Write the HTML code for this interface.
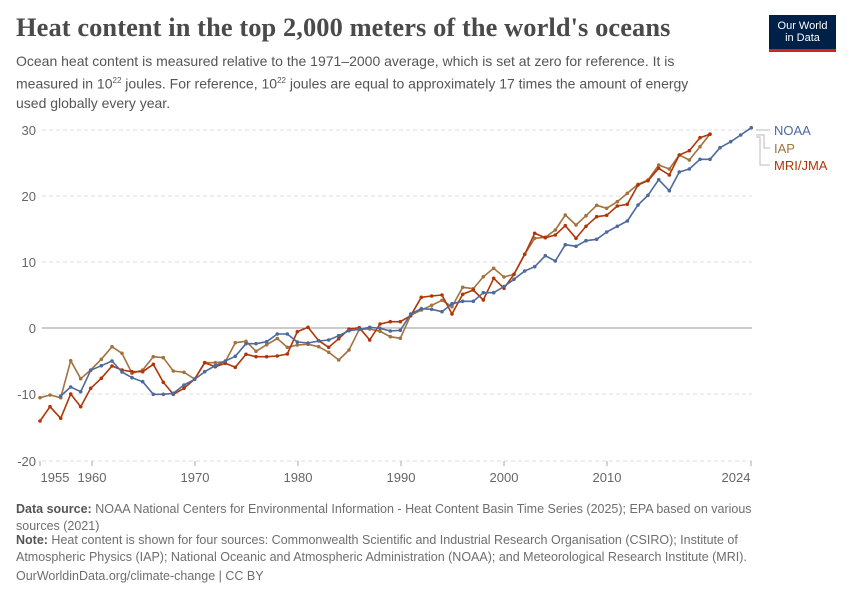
<!DOCTYPE html>
<html><head><meta charset="utf-8"><style>
body{margin:0;background:#fff;width:850px;height:600px;overflow:hidden;font-family:"Liberation Sans",sans-serif;position:relative}
.t{position:absolute;left:16px;top:12px;font-family:"Liberation Serif",serif;font-weight:bold;font-size:26.4px;color:#4a4a4a;white-space:nowrap;letter-spacing:0.1px}
.s{position:absolute;left:16px;top:52px;width:700px;font-size:14px;line-height:19px;color:#555}
.logo{position:absolute;left:769px;top:15px;width:67px;height:37px;background:#002147;border-bottom:3px solid #ce261e;color:#fff;font-size:11px;line-height:12px;text-align:center;box-sizing:border-box;padding-top:5px}
.f{position:absolute;left:16px;font-size:12.5px;line-height:17px;color:#6e6e6e;width:765px}
.f b{color:#555}
</style></head><body>
<div class="t">Heat content in the top 2,000 meters of the world's oceans</div>
<div class="logo">Our World<br>in Data</div>
<div class="s">Ocean heat content is measured relative to the 1971–2000 average, which is set at zero for reference. It is measured in 10<sup style="font-size:8px">22</sup> joules. For reference, 10<sup style="font-size:8px">22</sup> joules are equal to approximately 17 times the amount of energy used globally every year.</div>
<svg width="850" height="600" style="position:absolute;left:0;top:0" font-family="Liberation Sans, sans-serif">
<g stroke="#ddd" stroke-dasharray="4,3">
<line x1="42" x2="752" y1="130" y2="130"/><line x1="42" x2="752" y1="196" y2="196"/><line x1="42" x2="752" y1="262" y2="262"/><line x1="42" x2="752" y1="394" y2="394"/><line x1="42" x2="752" y1="461" y2="461"/>
</g>
<line x1="42" x2="752" y1="328" y2="328" stroke="#999"/>
<g stroke="#aaa"><line x1="40" x2="40" y1="461" y2="466"/><line x1="92" x2="92" y1="461" y2="466"/><line x1="195" x2="195" y1="461" y2="466"/><line x1="298" x2="298" y1="461" y2="466"/><line x1="401" x2="401" y1="461" y2="466"/><line x1="504" x2="504" y1="461" y2="466"/><line x1="607" x2="607" y1="461" y2="466"/><line x1="751" x2="751" y1="461" y2="466"/></g>
<g font-size="13" fill="#666" text-anchor="end">
<text x="36" y="135">30</text><text x="36" y="201">20</text><text x="36" y="267">10</text><text x="36" y="333">0</text><text x="36" y="399">-10</text><text x="36" y="466">-20</text></g>
<g font-size="13" fill="#666" text-anchor="middle">
<text x="55" y="482">1955</text><text x="92" y="482">1960</text><text x="195" y="482">1970</text><text x="298" y="482">1980</text><text x="401" y="482">1990</text><text x="504" y="482">2000</text><text x="607" y="482">2010</text><text x="736" y="482">2024</text></g>
<defs>
<marker id="mb" viewBox="0 0 4 4" refX="2" refY="2" markerWidth="4" markerHeight="4" markerUnits="userSpaceOnUse"><circle cx="2" cy="2" r="1.8" fill="#4c6a9c"/></marker>
<marker id="mi" viewBox="0 0 4 4" refX="2" refY="2" markerWidth="4" markerHeight="4" markerUnits="userSpaceOnUse"><circle cx="2" cy="2" r="1.8" fill="#a2723f"/></marker>
<marker id="mr" viewBox="0 0 4 4" refX="2" refY="2" markerWidth="4" markerHeight="4" markerUnits="userSpaceOnUse"><circle cx="2" cy="2" r="1.8" fill="#b13507"/></marker>
</defs>
<g fill="none" stroke-width="1.6" stroke-linejoin="round">
<polyline stroke="#a2723f" marker-start="url(#mi)" marker-mid="url(#mi)" marker-end="url(#mi)" points="40,397.7 50,395 60.7,397.7 70.7,360.7 80.7,378.7 90.7,370 101.3,359.3 112,346.7 122,353.3 132,373.3 142.7,370 153.3,356.7 163.3,357.7 173.3,371 184,372.3 194.7,379 204.7,362.7 215.3,362.7 225.3,361.7 235.3,342.7 246,341.3 256,351.3 266.7,344.7 277.3,338.5 287.3,347.3 297.3,345 308,344.3 318.7,346.7 328.7,352.3 338.7,360 349,350 359.3,329.3 369.7,329 380,331.3 390.3,336.7 400.3,338.3 410.7,315.3 421.3,310 431.7,305.3 442,300.3 452,306.7 462.7,287.3 473.3,288.7 483.3,276.7 493.7,268.3 504,277 514,274.3 524.7,254.3 534.7,238.3 545.3,237.3 555.3,230 565.3,215 576,225 586,215.7 596.7,205.3 606.7,208.3 617.3,201.7 627.3,193.3 638,184.3 648,180 658.7,165 669.3,169 679.3,155 689.3,160 700,146.7 710,134"/>
<polyline stroke="#b13507" marker-start="url(#mr)" marker-mid="url(#mr)" marker-end="url(#mr)" points="40,421 50,406.7 60.7,418.3 70.7,394 80.7,406.7 90.7,388.3 101.3,378.3 112,366 122,370 132,371.7 142.7,371.7 153.3,364.3 163.3,382.3 173.3,394.3 184,388.3 194.7,379 204.7,362.7 215.3,366.7 225.3,363.3 235.3,367.3 246,354.3 256,356.7 266.7,356.7 277.3,356 287.3,354 297.3,331.7 308,327.3 318.7,340.7 328.7,347.3 338.7,338.7 349,329 359.3,327.7 369.7,340 380,324 390.3,321.7 400.3,321.7 410.7,315.7 421.3,297.3 431.7,296 442,295 452,314 462.7,294.3 473.3,290 483.3,300 493.7,278.3 504,288.3 514,274.3 524.7,254.3 534.7,233.3 545.3,237.7 555.3,235 565.3,225.7 576,238.3 586,226.3 596.7,216.7 606.7,215.3 617.3,206 627.3,204.3 638,185 648,180.7 658.7,168.3 669.3,175 679.3,155 689.3,150.7 700,137.7 710,134.3"/>
<polyline stroke="#4c6a9c" marker-start="url(#mb)" marker-mid="url(#mb)" marker-end="url(#mb)" points="60.7,396 70.7,387 80.7,391.7 90.7,370.3 101.3,365.7 112,361 122,372 132,377.7 142.7,381.7 153.3,394.3 163.3,394.3 173.3,393.3 184,385 194.7,379.3 204.7,371.7 215.3,365.7 225.3,361 235.3,356.3 246,343.7 256,343.7 266.7,341.7 277.3,334 287.3,334 297.3,342 308,343 318.7,341 328.7,340 338.7,335.7 349,330.7 359.3,329.3 369.7,327.3 380,328.3 390.3,331 400.3,330.3 410.7,314 421.3,308.7 431.7,309.3 442,311.7 452,303.7 462.7,301.3 473.3,301.3 483.3,292.7 493.7,292.7 504,286.5 514,279.3 524.7,271 534.7,266.7 545.3,255.7 555.3,261 565.3,244.7 576,246.3 586,240.7 596.7,239.3 606.7,232 617.3,226.3 627.3,221 638,205 648,195.3 658.7,179.7 669.3,190.7 679.3,172 689.3,169 700,159.3 710,159.3 720,147.7 730.7,141.7 740.7,135 751.3,127.7"/>
</g>
<g stroke="#bbb" fill="none"><polyline points="756,130 770,130"/><polyline points="756,135 764,135 764,148 770,148"/><polyline points="756,137 760,137 760,165 770,165"/></g>
<g font-size="13"><text x="774" y="135" fill="#4c6a9c">NOAA</text><text x="774" y="153" fill="#a2723f">IAP</text><text x="774" y="170" fill="#b13507">MRI/JMA</text></g>
</svg>
<div class="f" style="top:501px"><b>Data source:</b> NOAA National Centers for Environmental Information - Heat Content Basin Time Series (2025); EPA based on various sources (2021)</div>
<div class="f" style="top:532px"><b>Note:</b> Heat content is shown for four sources: Commonwealth Scientific and Industrial Research Organisation (CSIRO); Institute of Atmospheric Physics (IAP); National Oceanic and Atmospheric Administration (NOAA); and Meteorological Research Institute (MRI).</div>
<div class="f" style="top:568px">OurWorldinData.org/climate-change | CC BY</div>
</body></html>
